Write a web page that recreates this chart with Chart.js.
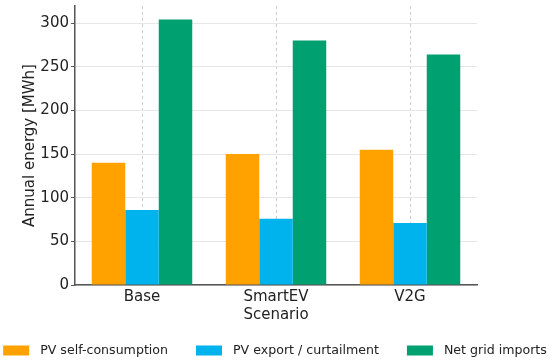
<!DOCTYPE html>
<html>
<head>
<meta charset="utf-8">
<script src="https://cdn.jsdelivr.net/npm/chart.js@4.4.0/dist/chart.umd.min.js"></script>
<style>
  html, body { margin: 0; padding: 0; background: #fff; }
  #wrap { width: 550px; height: 362px; position: relative; }
</style>
</head>
<body>
<div id="wrap"><canvas id="energyChart"></canvas></div>
<script>
const scenarios = ["Base", "SmartEV", "V2G"];
const selfConsumption = [140, 150, 155];
const exportCurtail = [86, 76, 71];
const gridImports = [304, 280, 264];
const yTicks = [0, 50, 100, 150, 200, 250, 300];

const seriesNames = ["PV self-consumption", "PV export / curtailment", "Net grid imports"];
const colors = ["#FFA200", "#00B3EC", "#00A070"];
const FONT = "'DejaVu Sans', sans-serif";
const TEXT = "#222";

// legend drawn under the axis title, the way the original lays it out
const bottomLegend = {
  id: "bottomLegend",
  afterDraw(chart) {
    const ctx = chart.ctx;
    const boxW = 26, boxH = 10, textGap = 11, itemGap = 28, y = 350.5;
    ctx.save();
    ctx.font = "12.6px " + FONT;
    const widths = chart.data.datasets.map(ds => boxW + textGap + ctx.measureText(ds.label).width);
    const total = widths.reduce((a, b) => a + b, 0) + itemGap * (widths.length - 1);
    let x = (chart.width - total) / 2;
    chart.data.datasets.forEach((ds, i) => {
      ctx.fillStyle = ds.backgroundColor;
      ctx.fillRect(x, y - boxH / 2, boxW, boxH);
      ctx.fillStyle = TEXT;
      ctx.textBaseline = "middle";
      ctx.textAlign = "left";
      ctx.fillText(ds.label, x + boxW + textGap, y);
      x += widths[i] + itemGap;
    });
    ctx.restore();
  }
};

const ctx = document.getElementById("energyChart").getContext("2d");
new Chart(ctx, {
  type: "bar",
  data: {
    labels: scenarios,
    datasets: [
      { label: seriesNames[0], data: selfConsumption, backgroundColor: colors[0] },
      { label: seriesNames[1], data: exportCurtail, backgroundColor: colors[1] },
      { label: seriesNames[2], data: gridImports, backgroundColor: colors[2] }
    ]
  },
  options: {
    responsive: true,
    maintainAspectRatio: false,
    animation: false,
    datasets: {
      bar: { categoryPercentage: 0.75, barPercentage: 1.0, borderWidth: 0 }
    },
    layout: { padding: { top: 6, right: 73, left: 12, bottom: 38 } },
    scales: {
      x: {
        z: 1,
        grid: { offset: false, color: "rgba(0,0,0,0.2)", lineWidth: 1, drawTicks: false },
        border: { display: true, color: "#555", width: 1.5, dash: [3, 3] },
        ticks: { color: TEXT, font: { family: FONT, size: 15 }, padding: 3 },
        title: { display: true, text: "Scenario", color: TEXT, font: { family: FONT, size: 15 }, padding: { top: -3, bottom: 0 } }
      },
      y: {
        min: 0,
        max: 319.6,
        afterBuildTicks: (scale) => {
          scale.ticks = yTicks.map(v => ({ value: v }));
        },
        afterFit: (scale) => {
          scale.width = 63;
          scale.paddingTop = 0;
          scale.paddingBottom = 0;
        },
        grid: { color: "#e6e6e6", lineWidth: 1, drawTicks: true, tickLength: 4, tickColor: "#555", tickWidth: 1 },
        border: { display: true, color: "#555", width: 1.5 },
        ticks: { color: TEXT, font: { family: FONT, size: 15 }, padding: 2 },
        title: { display: true, text: "Annual energy [MWh]", color: TEXT, font: { family: FONT, size: 15 }, padding: { top: 9, bottom: 0 } }
      }
    },
    plugins: {
      legend: { display: false },
      tooltip: { enabled: false }
    }
  },
  plugins: [bottomLegend]
});
</script>
</body>
</html>
